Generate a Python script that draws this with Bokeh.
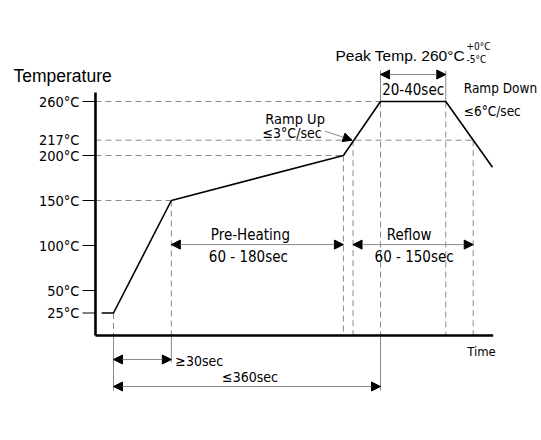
from bokeh.plotting import figure
from bokeh.models import Range1d, Arrow, NormalHead
from bokeh.core.properties import value
from bokeh.embed import file_html
from bokeh.resources import INLINE

# ---------------- data (schematic reflow profile) ----------------
profile_time = [-16, 0, 78, 310, 360, 448, 511]        # time units
profile_temp = [25, 25, 150, 200, 260, 260, 187]       # deg C

tick_temps = [260, 217, 200, 150, 100, 50, 25]
tick_labels = ["260°C", "217°C", "200°C", "150°C", "100°C", "50°C", "25°C"]
tick_marks = [260, 200, 150, 100, 50, 25]

t_start = 0          # start of ramp (25 °C)
t_preheat = 78       # 150 °C reached
t_soak_end = 310     # 200 °C reached
t_217_up = 323       # 217 °C on the way up
t_peak_start = 360   # 260 °C reached
t_peak_end = 448     # leaves 260 °C
t_217_down = 485     # 217 °C on the way down

# ---------------- layout ----------------
KX = 267 / 360.0   # px per time unit
KY = 0.9           # px per degree
W, H = 538, 436

def dx(px):
    return px / KX

def dy(px):
    return px / KY

x_axis_left = -24.3
x_axis_right = 512
y_axis_top = 270

FONT = "DejaVu Sans Condensed"
FONT2 = "Liberation Sans"
DASH = "6 4"
GRAY = "#8a8a8a"

p = figure(width=W, height=H, x_range=Range1d(-dx(113), dx(W - 113)),
           y_range=Range1d(-dy(H - 335), dy(335)), x_axis_type=None, y_axis_type=None,
           toolbar_location=None, output_backend="svg", min_border=0)
p.outline_line_color = None
p.grid.visible = False
p.background_fill_color = "white"


def txt(x, y, s, size="15px", align="left", baseline="middle", font=FONT, color="black"):
    p.text(x=[x], y=[y], text=[s], text_font=value(font), text_font_size=value(size),
           text_align=align, text_baseline=baseline, text_color=color)


# dashed guide lines inside the axes
h_y = [260, 217, 200, 150]
h_x1 = [t_peak_start, t_217_down, t_soak_end, t_preheat]
p.segment(x0=[x_axis_left] * 4, y0=h_y, x1=h_x1, y1=h_y, line_color=GRAY, line_width=1, line_dash=DASH)

v_x = [t_start, t_preheat, t_soak_end, t_217_up, t_peak_start, t_peak_end, t_217_down]
v_top = [25, 150, 200, 217, 260, 260, 217]
p.segment(x0=v_x, y0=v_top, x1=v_x, y1=[0] * len(v_x), line_color=GRAY, line_width=1, line_dash=DASH)

# solid extension lines
ext_x = [t_start, t_preheat, t_peak_start, t_peak_start, t_peak_end]
ext_y0 = [0, 0, 0, 260, 260]
ext_y1 = [-dy(55), -dy(27), -dy(55), 260 + dy(31), 260 + dy(31)]
p.segment(x0=ext_x, y0=ext_y0, x1=ext_x, y1=ext_y1, line_color=GRAY, line_width=1)

# profile curve
p.line(profile_time, profile_temp, line_color="black", line_width=1.6)

# axes
p.segment(x0=[x_axis_left, x_axis_left], y0=[0, 0], x1=[x_axis_left, x_axis_right], y1=[y_axis_top, 0],
          line_color="black", line_width=2.6)
p.segment(x0=[x_axis_left - dx(13)] * len(tick_marks), y0=tick_marks,
          x1=[x_axis_left] * len(tick_marks), y1=tick_marks, line_color="black", line_width=1.2)
p.text(x=[x_axis_left - dx(16)] * len(tick_temps), y=tick_temps, text=tick_labels,
       text_font=value(FONT), text_font_size=value("14.5px"), text_align="right", text_baseline="middle")

txt(x_axis_left - dx(82), y_axis_top + dy(17), "Temperature", size="17.5px", font=FONT2)
txt(x_axis_right - dx(26), -dy(16), "Time", size="13px")


def darrow(x0, x1, y, size=9):
    p.add_layout(Arrow(start=NormalHead(size=size, fill_color="black", line_color="black"),
                       end=NormalHead(size=size, fill_color="black", line_color="black"),
                       x_start=x0, y_start=y, x_end=x1, y_end=y, line_color=GRAY, line_width=1))


# duration arrows
darrow(t_preheat, t_soak_end, 101)
darrow(t_217_up, t_217_down, 101)
darrow(t_peak_start, t_peak_end, 260 + dy(27))
darrow(t_start, t_preheat, -dy(24))
darrow(t_start, t_peak_start, -dy(51))

# ramp up pointer
p.add_layout(Arrow(end=NormalHead(size=9, fill_color="black", line_color="black"),
                   x_start=t_217_up - dx(28), y_start=217 + dy(9), x_end=t_217_up - dx(1), y_end=217,
                   line_color=GRAY, line_width=1))

# texts
txt((t_preheat + t_soak_end) / 2 - dx(7), 101 + dy(10), "Pre-Heating", align="center")
txt((t_preheat + t_soak_end) / 2 - dx(9), 101 - dy(12), "60 - 180sec", align="center")
txt((t_217_up + t_217_down) / 2 - dx(4), 101 + dy(10), "Reflow", align="center")
txt((t_217_up + t_217_down) / 2 + dx(1), 101 - dy(12), "60 - 150sec", align="center")
txt((t_peak_start + t_peak_end) / 2, 260 + dy(12), "20-40sec", align="center")
txt(t_peak_start - dx(45), 260 + dy(46), "Peak Temp. 260°C", size="15.5px", font=FONT2)
txt(t_peak_start + dx(86), 260 + dy(55), "+0°C", size="10px")
txt(t_peak_start + dx(86), 260 + dy(42), "-5°C", size="10px")
txt(t_peak_end + dx(18), 260 + dy(14), "Ramp Down", size="13.5px")
txt(t_peak_end + dx(18), 260 - dy(9), "≤6°C/sec", size="13.5px")
txt(t_217_up - dx(58), 217 + dy(21), "Ramp Up", align="center", size="14.5px")
txt(t_217_up - dx(61), 217 + dy(7), "≤3°C/sec", align="center", size="14px")
txt(t_preheat + dx(4), -dy(25), "≥30sec", size="14px")
txt((t_start + t_peak_start) / 2 + dx(3), -dy(41), "≤360sec", align="center", size="14px")

open("out.html", "w").write(file_html(p, INLINE))
